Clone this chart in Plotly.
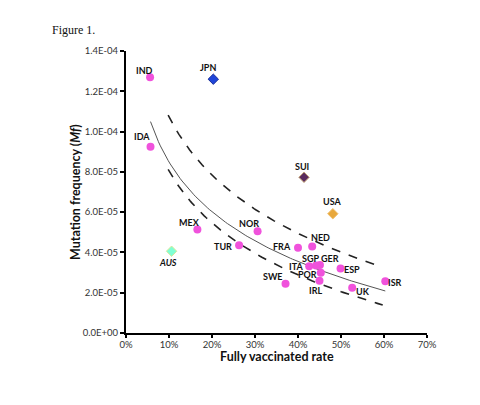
import numpy as np
import plotly.graph_objects as go

# fully vaccinated rate (fraction) and mutation frequency per country
pink_countries = ['IND', 'IDA', 'MEX', 'TUR', 'NOR', 'SWE', 'FRA', 'NED', 'ITA', 'SGP',
                  'GER', 'POR', 'IRL', 'ESP', 'UK', 'ISR']
pink_rate = [0.056, 0.057, 0.166, 0.263, 0.306, 0.371, 0.400, 0.433, 0.426, 0.442,
             0.451, 0.453, 0.450, 0.499, 0.526, 0.603]
pink_mf = [1.27e-4, 9.25e-5, 5.14e-5, 4.36e-5, 5.05e-5, 2.44e-5, 4.23e-5, 4.29e-5, 3.31e-5, 3.35e-5,
           3.37e-5, 2.99e-5, 2.60e-5, 3.20e-5, 2.25e-5, 2.57e-5]

other_countries = ['JPN', 'SUI', 'USA', 'AUS']
other_rate = [0.203, 0.414, 0.481, 0.106]
other_mf = [1.26e-4, 7.73e-5, 5.92e-5, 4.06e-5]
other_colors = ['#1f45d9', '#5b2c5e', '#e8a83c', '#7fffd4']

# logarithmic trend line and bands: mf = a + b*ln(rate in %)
trend_a = [1.670e-4, 2.034e-4, 1.662e-4]
trend_b = [-3.565e-5, -4.174e-5, -3.724e-5]
trend_from = [5.7, 9.8, 9.8]
trend_to = [60.3, 59.5, 59.7]

y_tickvals = [0, 2e-5, 4e-5, 6e-5, 8e-5, 1e-4, 1.2e-4, 1.4e-4]
y_ticktext = ['0.0E+00', '2.0E-05', '4.0E-05', '6.0E-05', '8.0E-05', '1.0E-04', '1.2E-04', '1.4E-04']

# label offsets in pixels (dx, dy) relative to the marker
label_offsets = {
    'IND': (-6, 7), 'JPN': (-5, 12), 'IDA': (-9, 10), 'SUI': (-2, 11), 'USA': (-1, 12),
    'NOR': (-9, 8), 'MEX': (-8, 7), 'AUS': (-4, -11), 'TUR': (-16, -1), 'SWE': (-13, 7),
    'FRA': (-16, 1), 'NED': (8, 9), 'SGP': (-6, 7), 'ITA': (-13, 0), 'GER': (10, 7),
    'POR': (-13, -2), 'IRL': (-4, -10), 'ESP': (11, -1), 'UK': (11, -4), 'ISR': (10, -1),
}

fig = go.Figure()

dashes = ['solid', 'dash', 'dash']
widths = [1, 1.6, 1.6]
colors = ['#555555', '#222222', '#222222']
for a, b, lo, hi, dsh, w, c in zip(trend_a, trend_b, trend_from, trend_to, dashes, widths, colors):
    xs = np.linspace(lo, hi, 120)
    fig.add_trace(go.Scatter(x=xs / 100, y=a + b * np.log(xs), mode='lines',
                             line=dict(color=c, width=w, dash=dsh), hoverinfo='skip'))

fig.add_trace(go.Scatter(x=pink_rate, y=pink_mf, mode='markers', text=pink_countries,
                         marker=dict(color='#f052dc', size=8, line=dict(width=0))))
fig.add_trace(go.Scatter(x=other_rate, y=other_mf, mode='markers', text=other_countries,
                         marker=dict(color=other_colors, size=8, symbol='diamond',
                                     line=dict(color=['#1a2f9a', '#c8a878', '#f0c070', '#d8e89a'], width=1))))

for name, x, y in zip(pink_countries + other_countries, pink_rate + other_rate, pink_mf + other_mf):
    dx, dy = label_offsets[name]
    txt = '<i>' + name + '</i>' if name == 'AUS' else name
    fig.add_annotation(x=x, y=y, text='<b>' + txt + '</b>', showarrow=False,
                       xshift=dx, yshift=dy, font=dict(family='Lato', size=9, color='#111'))

fig.add_annotation(text='Figure 1.', xref='paper', yref='paper', x=-0.252, y=1.076,
                   xanchor='left', yanchor='middle', showarrow=False,
                   font=dict(family='Liberation Serif', size=12, color='#111'))

# axis titles as annotations for tighter placement
fig.add_annotation(text='<b>Fully vaccinated rate</b>', xref='paper', yref='paper', x=0.5, y=0,
                   yshift=-23, yanchor='middle', showarrow=False,
                   font=dict(family='Lato', size=12.5, color='#111'))
fig.add_annotation(text='<b>Mutation frequency (<i>Mf</i>)</b>', xref='paper', yref='paper',
                   x=0, y=0.5, xshift=-51, xanchor='center', textangle=-90, showarrow=False,
                   font=dict(family='Lato', size=12.5, color='#111'))

fig.update_xaxes(range=[0, 0.7], tickformat='.0%', dtick=0.1, showgrid=False, zeroline=False,
                 showline=True, linecolor='black', linewidth=2, ticks='outside', ticklen=3,
                 tickcolor='black', tickwidth=1.5, automargin=False, ticklabelstandoff=-1,
                 tickfont=dict(family='Lato', size=9.5, color='#333'))
fig.update_yaxes(range=[0, 1.4e-4], tickvals=y_tickvals, ticktext=y_ticktext, showgrid=False,
                 zeroline=False, showline=True, linecolor='black', linewidth=2, ticks='outside',
                 ticklen=4, tickcolor='black', tickwidth=1.5, automargin=False,
                 tickfont=dict(family='Lato', size=9.5, color='#333'))

fig.update_layout(width=480, height=405, showlegend=False, plot_bgcolor='white',
                  paper_bgcolor='white', margin=dict(l=118, r=61, t=43, b=80))

fig.write_html("out.html")
